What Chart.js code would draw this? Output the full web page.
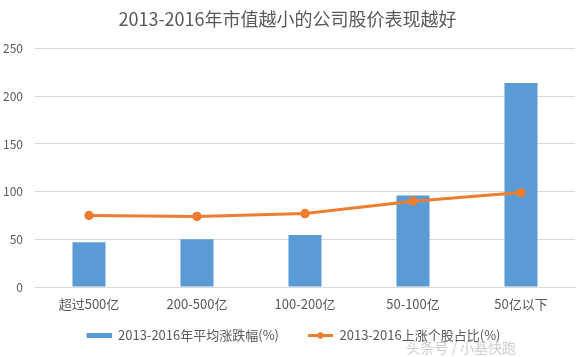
<!DOCTYPE html>
<html>
<head>
<meta charset="utf-8">
<script src="https://cdn.jsdelivr.net/npm/chart.js@4/dist/chart.umd.min.js"></script>
<style>
html,body{margin:0;padding:0;background:#fff;}
#wrap{width:586px;height:357px;position:relative;}
</style>
</head>
<body>
<div id="wrap"><canvas id="c" width="586" height="357"></canvas></div>
<script>
const categories = ['超过500亿', '200-500亿', '100-200亿', '50-100亿', '50亿以下'];
const avgChange = [47, 50, 54.5, 96, 214];
const riseRatio = [75, 74, 77, 90, 99];
const yTicks = [0, 50, 100, 150, 200, 250];
const titleText = '2013-2016年市值越小的公司股价表现越好';
const seriesNames = ['2013-2016年平均涨跌幅(%)', '2013-2016上涨个股占比(%)'];
const watermark = '头条号 / 小基快跑';

const FONT = '"Noto Sans CJK SC", "Noto Sans", sans-serif';
const BLUE = '#5B9BD5', ORANGE = '#ED7D31', GRAY = '#595959';
const ICON_LEAD = 12; // blank lead-in so legend items are spaced like the original

function barIcon() {
  const c = document.createElement('canvas'); c.width = 25 + ICON_LEAD; c.height = 7;
  const g = c.getContext('2d'); g.fillStyle = BLUE; g.fillRect(ICON_LEAD, 1, 25, 5); return c;
}
function lineIcon() {
  const c = document.createElement('canvas'); c.width = 25 + ICON_LEAD; c.height = 9;
  const g = c.getContext('2d');
  g.strokeStyle = ORANGE; g.lineWidth = 3; g.beginPath(); g.moveTo(ICON_LEAD, 4.5); g.lineTo(ICON_LEAD + 25, 4.5); g.stroke();
  g.fillStyle = ORANGE; g.beginPath(); g.arc(ICON_LEAD + 12.5, 4.5, 3.2, 0, Math.PI * 2); g.fill();
  return c;
}

const watermarkPlugin = {
  id: 'wm',
  afterDraw(chart) {
    const ctx = chart.ctx;
    ctx.save();
    ctx.font = '14px ' + FONT;
    ctx.fillStyle = 'rgba(185,185,185,0.7)';
    ctx.textAlign = 'right';
    ctx.textBaseline = 'middle';
    ctx.fillText(watermark, 516, 348);
    ctx.restore();
  }
};

new Chart(document.getElementById('c'), {
  data: {
    labels: categories,
    datasets: [
      { type: 'bar', label: seriesNames[0], data: avgChange, backgroundColor: BLUE,
        categoryPercentage: 0.306, barPercentage: 1, order: 2 },
      { type: 'line', label: seriesNames[1], data: riseRatio, borderColor: ORANGE, backgroundColor: ORANGE,
        borderWidth: 3, pointRadius: 3.2, pointHoverRadius: 3.2, tension: 0, order: 1, pointStyle: 'circle' }
    ]
  },
  options: {
    responsive: false,
    animation: false,
    events: [],
    layout: { padding: { left: 0, right: 11, top: 8, bottom: 5 } },
    plugins: {
      title: { display: true, text: titleText, color: GRAY, font: { family: FONT, size: 18, weight: 'normal' },
        padding: { top: 0, bottom: 19 } },
      legend: {
        position: 'bottom',
        labels: {
          usePointStyle: true, pointStyleWidth: 25 + ICON_LEAD, boxHeight: 9, padding: 17,
          color: GRAY, font: { family: FONT, size: 13 },
          generateLabels(chart) {
            const icons = [barIcon(), lineIcon()];
            return chart.data.datasets.map((d, i) => ({
              text: d.label, pointStyle: icons[i], fontColor: GRAY, datasetIndex: i,
              strokeStyle: 'transparent', lineWidth: 0, fillStyle: 'transparent', hidden: false
            }));
          }
        }
      },
      tooltip: { enabled: false }
    },
    scales: {
      x: {
        afterFit(s) { s.height = 25; },
        grid: { display: false, drawTicks: false },
        border: { display: true, color: '#d9d9d9' },
        ticks: { color: GRAY, font: { family: FONT, size: 13, lineHeight: 1 }, padding: 11 }
      },
      y: {
        min: 0, max: 250,
        afterFit(s) { s.width = 35; },
        afterBuildTicks(s) { s.ticks = yTicks.map(v => ({ value: v })); },
        grid: { color: '#d9d9d9', drawTicks: false },
        border: { display: false },
        ticks: { color: GRAY, font: { family: FONT, size: 12 }, padding: 12 }
      }
    }
  },
  plugins: [watermarkPlugin]
});
</script>
</body>
</html>
